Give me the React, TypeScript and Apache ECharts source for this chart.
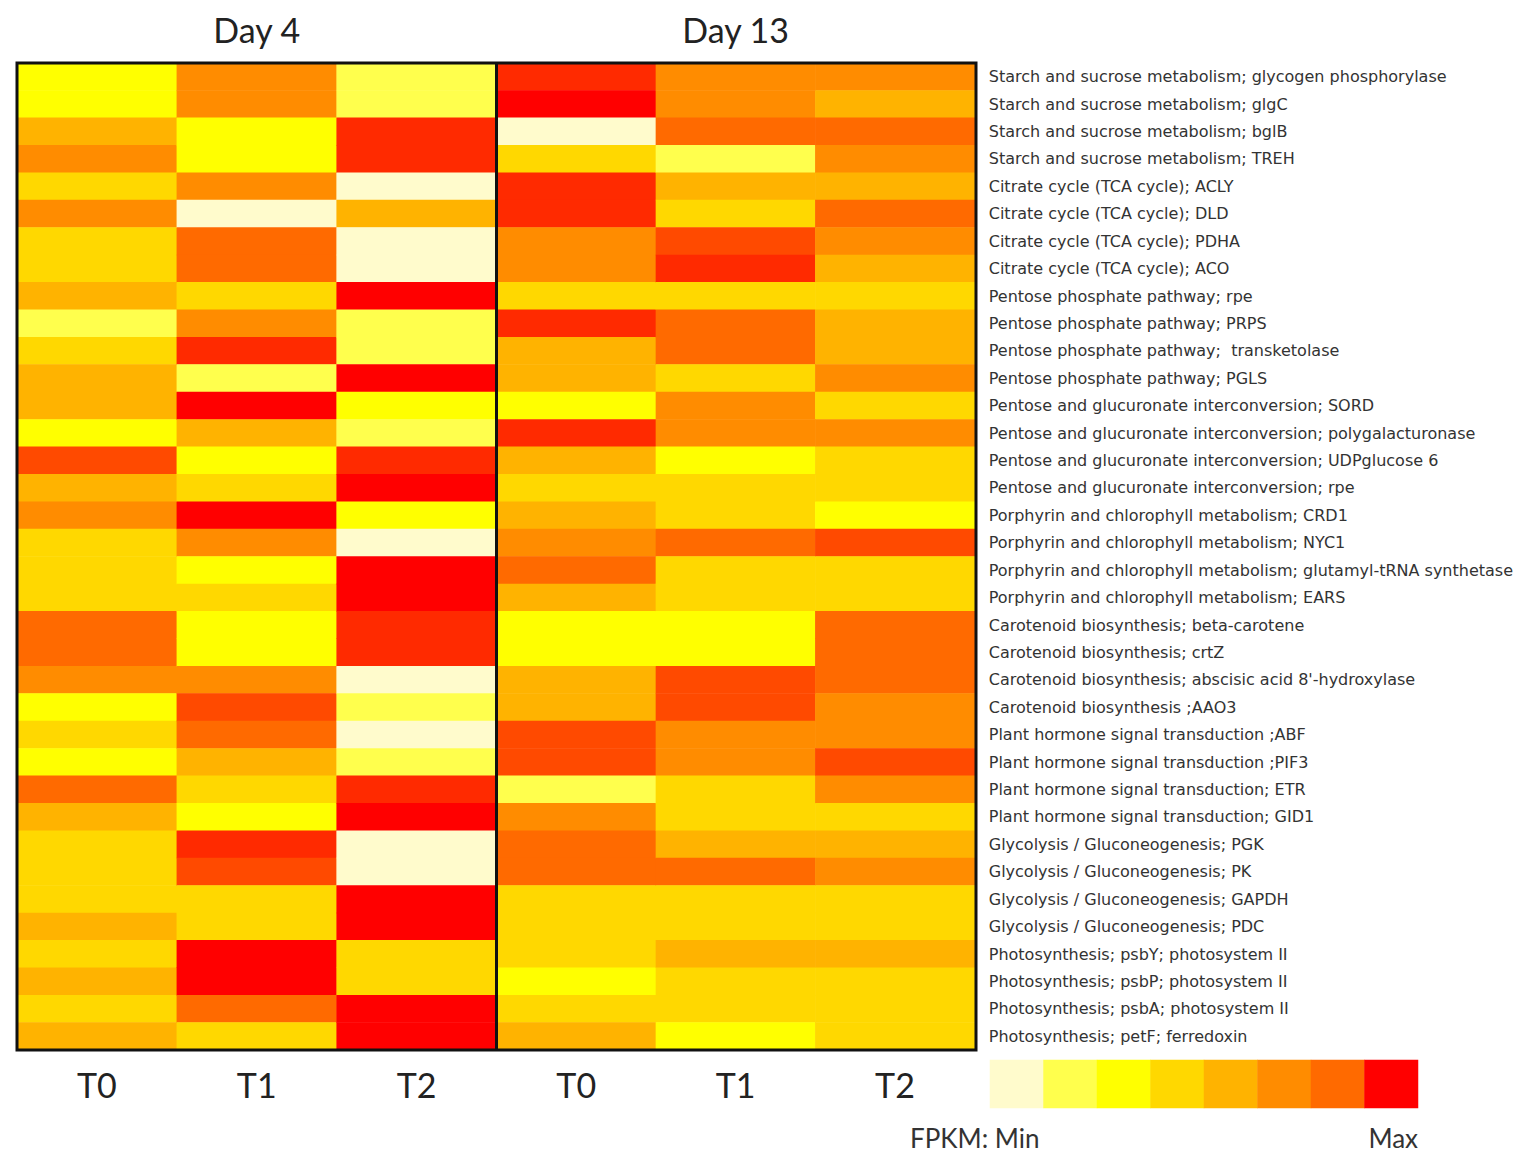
import React, { useEffect, useRef } from "react";
import * as echarts from "echarts";

// Gene rows, top to bottom
const pathways = [
  "Starch and sucrose metabolism; glycogen phosphorylase",
  "Starch and sucrose metabolism; glgC",
  "Starch and sucrose metabolism; bglB",
  "Starch and sucrose metabolism; TREH",
  "Citrate cycle (TCA cycle); ACLY",
  "Citrate cycle (TCA cycle); DLD",
  "Citrate cycle (TCA cycle); PDHA",
  "Citrate cycle (TCA cycle); ACO",
  "Pentose phosphate pathway; rpe",
  "Pentose phosphate pathway; PRPS",
  "Pentose phosphate pathway;  transketolase",
  "Pentose phosphate pathway; PGLS",
  "Pentose and glucuronate interconversion; SORD",
  "Pentose and glucuronate interconversion; polygalacturonase",
  "Pentose and glucuronate interconversion; UDPglucose 6",
  "Pentose and glucuronate interconversion; rpe",
  "Porphyrin and chlorophyll metabolism; CRD1",
  "Porphyrin and chlorophyll metabolism; NYC1",
  "Porphyrin and chlorophyll metabolism; glutamyl-tRNA synthetase",
  "Porphyrin and chlorophyll metabolism; EARS",
  "Carotenoid biosynthesis; beta-carotene",
  "Carotenoid biosynthesis; crtZ",
  "Carotenoid biosynthesis; abscisic acid 8'-hydroxylase",
  "Carotenoid biosynthesis ;AAO3",
  "Plant hormone signal transduction ;ABF",
  "Plant hormone signal transduction ;PIF3",
  "Plant hormone signal transduction; ETR",
  "Plant hormone signal transduction; GID1",
  "Glycolysis / Gluconeogenesis; PGK",
  "Glycolysis / Gluconeogenesis; PK",
  "Glycolysis / Gluconeogenesis; GAPDH",
  "Glycolysis / Gluconeogenesis; PDC",
  "Photosynthesis; psbY; photosystem II",
  "Photosynthesis; psbP; photosystem II",
  "Photosynthesis; psbA; photosystem II",
  "Photosynthesis; petF; ferredoxin",
];

const timePoints = ["T0", "T1", "T2"];
const dayTitles = ["Day 4", "Day 13"];

// FPKM level per gene (0 = min ... 9 = max)
const day4T0 = [2, 2, 4, 5, 3, 5, 3, 3, 4, 1, 3, 4, 4, 2, 7, 4, 5, 3, 3, 3, 6, 6, 5, 2, 3, 2, 6, 4, 3, 3, 3, 4, 3, 4, 3, 4];
const day4T1 = [5, 5, 2, 2, 5, 0, 6, 6, 3, 5, 8, 1, 9, 4, 2, 3, 9, 5, 2, 3, 2, 2, 5, 7, 6, 4, 3, 2, 8, 7, 3, 3, 9, 9, 6, 3];
const day4T2 = [1, 1, 8, 8, 0, 4, 0, 0, 9, 1, 1, 9, 2, 1, 8, 9, 2, 0, 9, 9, 8, 8, 0, 1, 0, 1, 8, 9, 0, 0, 9, 9, 3, 3, 9, 9];
const day13T0 = [8, 9, 0, 3, 8, 8, 5, 5, 3, 8, 4, 4, 2, 8, 4, 3, 4, 5, 6, 4, 2, 2, 4, 4, 7, 7, 1, 5, 6, 6, 3, 3, 3, 2, 3, 4];
const day13T1 = [5, 5, 6, 1, 4, 3, 7, 8, 3, 6, 6, 3, 5, 5, 2, 3, 3, 6, 3, 3, 2, 2, 7, 7, 5, 5, 3, 3, 4, 6, 3, 3, 4, 3, 3, 2];
const day13T2 = [5, 4, 6, 5, 4, 6, 5, 4, 3, 4, 4, 5, 3, 5, 3, 3, 2, 7, 3, 3, 6, 6, 6, 5, 5, 7, 5, 3, 4, 5, 3, 3, 4, 3, 3, 3];

// Colour for each FPKM level
const levelColors = [
  "#FFFBCC", "#FFFF4D", "#FFFF00", "#FFD800", "#FFB300",
  "#FF8C00", "#FF6A00", "#FF4A00", "#FF2A00", "#FF0000",
];
// Levels shown as boxes in the colour key
const legendLevels = [0, 1, 2, 3, 4, 5, 6, 9];

const cells = (cols: number[][]) =>
  cols.flatMap((col, x) => col.map((v, y) => [x, y, v]));

const headFont = "Lato, 'Open Sans', sans-serif";

export default function App() {
  const ref = useRef<HTMLDivElement>(null);

  useEffect(() => {
    if (!ref.current) return;
    document.body.style.margin = "0";
    const chart = echarts.init(ref.current, null, { renderer: "svg" });

    const gLeft = 17;
    const gTop = 63;
    const gW = 959;
    const gH = 987;
    const half = gW / 2;

    const hidden = {
      axisLine: { show: false },
      axisTick: { show: false },
      splitLine: { show: false },
    };

    chart.setOption({
      animation: false,
      grid: [
        { left: gLeft, top: gTop, width: half, height: gH },
        { left: gLeft + half, top: gTop, width: half, height: gH },
        { left: 990, top: 1060, width: 428, height: 48 },
      ],
      xAxis: [
        {
          type: "category", gridIndex: 0, data: timePoints, position: "bottom", ...hidden,
          axisLabel: { fontSize: 34, margin: 17, color: "#222", fontFamily: headFont },
        },
        {
          type: "category", gridIndex: 1, data: timePoints, position: "bottom", ...hidden,
          axisLabel: { fontSize: 34, margin: 17, color: "#222", fontFamily: headFont },
        },
        {
          type: "category", gridIndex: 0, data: timePoints, position: "top", ...hidden,
          axisLabel: { show: false },
          name: dayTitles[0], nameLocation: "middle", nameGap: 17,
          nameTextStyle: { fontSize: 34, color: "#222", fontFamily: headFont },
        },
        {
          type: "category", gridIndex: 1, data: timePoints, position: "top", ...hidden,
          axisLabel: { show: false },
          name: dayTitles[1], nameLocation: "middle", nameGap: 17,
          nameTextStyle: { fontSize: 34, color: "#222", fontFamily: headFont },
        },
        {
          type: "category", gridIndex: 2, data: legendLevels.map(String), show: false,
        },
      ],
      yAxis: [
        { type: "category", gridIndex: 0, data: pathways, inverse: true, show: false },
        {
          type: "category", gridIndex: 1, data: pathways, inverse: true, position: "right", ...hidden,
          axisLabel: {
            fontSize: 16, margin: 14, color: "#333",
            fontFamily: "'DejaVu Sans', sans-serif", align: "left",
            padding: [5, 0, 0, 0],
          },
        },
        { type: "category", gridIndex: 2, data: ["FPKM"], show: false },
      ],
      visualMap: {
        type: "piecewise",
        show: false,
        dimension: 2,
        seriesIndex: [0, 1, 2],
        pieces: levelColors.map((color, i) => ({ value: i, color })),
      },
      series: [
        {
          type: "heatmap", xAxisIndex: 0, yAxisIndex: 0,
          data: cells([day4T0, day4T1, day4T2]),
          itemStyle: { borderWidth: 0 }, emphasis: { disabled: true },
        },
        {
          type: "heatmap", xAxisIndex: 1, yAxisIndex: 1,
          data: cells([day13T0, day13T1, day13T2]),
          itemStyle: { borderWidth: 0 }, emphasis: { disabled: true },
        },
        {
          type: "heatmap", xAxisIndex: 4, yAxisIndex: 2,
          data: legendLevels.map((v, i) => [i, 0, v]),
          itemStyle: { borderWidth: 0 }, emphasis: { disabled: true },
        },
      ],
      graphic: [
        {
          type: "rect", z: 100, silent: true,
          shape: { x: gLeft, y: gTop, width: gW, height: gH },
          style: { fill: "none", stroke: "#111", lineWidth: 3 },
        },
        {
          type: "line", z: 100, silent: true,
          shape: { x1: gLeft + half, y1: gTop, x2: gLeft + half, y2: gTop + gH },
          style: { stroke: "#111", lineWidth: 3 },
        },
        {
          type: "text", x: 910, y: 1138,
          style: {
            text: "FPKM: Min", fontSize: 26, fill: "#333",
            fontFamily: headFont, verticalAlign: "middle", align: "left",
          },
        },
        {
          type: "text", x: 1418, y: 1138,
          style: {
            text: "Max", fontSize: 26, fill: "#333",
            fontFamily: headFont, verticalAlign: "middle", align: "right",
          },
        },
      ],
    });

    return () => chart.dispose();
  }, []);

  return <div ref={ref} style={{ width: 1516, height: 1154 }} />;
}
